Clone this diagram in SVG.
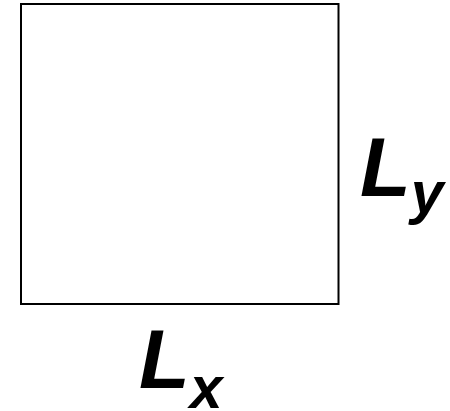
<svg xmlns="http://www.w3.org/2000/svg" width="450" height="411" viewBox="0 0 450 411">
<style>
.lbl{font-family:"Liberation Sans",Arial,sans-serif;font-weight:bold;font-style:italic;fill:#000;font-size:83px}
.sub{font-size:59px}
</style>
<rect width="450" height="411" fill="#fff"/>
<g id="box">
<rect x="21" y="4" width="317.5" height="300" fill="#fff" stroke="#000" stroke-width="2"/>
</g>
<g id="label-ly">
<text class="lbl" x="360" y="196">L<tspan class="sub" dy="17">y</tspan></text>
</g>
<g id="label-lx">
<text class="lbl" x="139" y="388">L<tspan class="sub" dy="20">x</tspan></text>
</g>
</svg>
